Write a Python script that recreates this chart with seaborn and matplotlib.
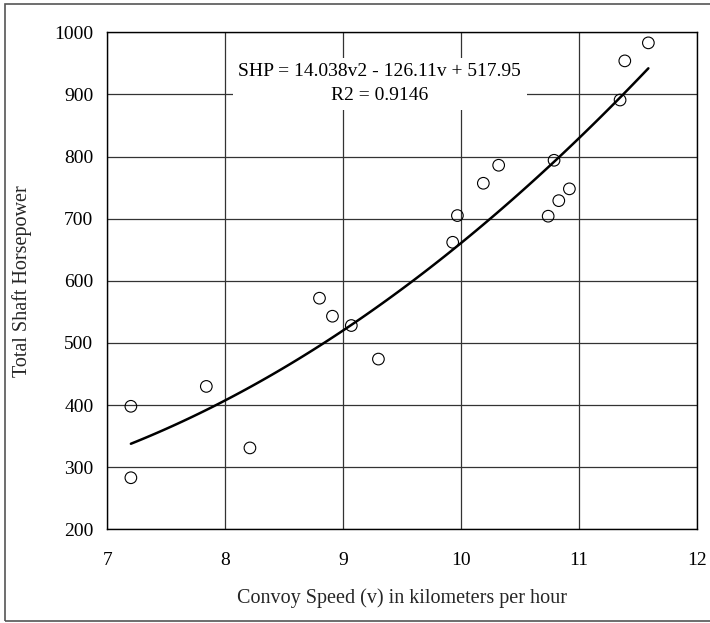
import numpy as np
import pandas as pd
import seaborn as sns
import matplotlib as mpl
from matplotlib import pyplot as plt

# convoy speed (km/h) and total shaft horsepower
speed = [7.20, 7.20, 7.84, 8.21, 8.80, 8.91, 9.07, 9.30, 9.93, 9.97,
         10.19, 10.32, 10.74, 10.79, 10.83, 10.92, 11.35, 11.39, 11.59]
shp = [398, 283, 430, 331, 572, 543, 528, 474, 662, 705,
       757, 786, 704, 794, 729, 748, 891, 954, 983]

# quadratic trend printed on the chart: a*v^2 + b*v + c
coef = [14.038, -126.11, 517.95]
r2 = 0.9146

sns.set_style("white")
plt.rcParams['font.family'] = ['Liberation Serif', 'DejaVu Serif']
plt.rcParams['font.size'] = 13.5
plt.rcParams['text.color'] = 'black'

fig = plt.figure(figsize=(7.1, 6.23), dpi=100)
ax = fig.add_axes([107.3 / 710, 1 - 529.3 / 623, (696.7 - 107.3) / 710, (529.3 - 32.3) / 623])

# outer frame around the whole chart
fig.patches.append(mpl.patches.Rectangle((5 / 710, 1 - 621 / 623), 710 / 710, 617 / 623,
                                         transform=fig.transFigure, fill=False,
                                         edgecolor='#555555', linewidth=1.2))

df = pd.DataFrame({'speed': speed, 'shp': shp})
vv = np.linspace(min(speed), max(speed), 100)
trend = pd.DataFrame({'speed': vv, 'shp': np.polyval(coef, vv)})

sns.lineplot(data=trend, x='speed', y='shp', ax=ax, color='black', linewidth=1.8, zorder=3)
sns.scatterplot(data=df, x='speed', y='shp', ax=ax, s=70, facecolor='none',
                edgecolor='black', linewidth=0.8, zorder=4)

ax.set_xlim(7, 12)
ax.set_ylim(200, 1000)
ax.set_xticks(range(7, 13))
ax.set_yticks(range(200, 1001, 100))
ax.grid(True, color='#333333', linewidth=0.9)
ax.set_axisbelow(True)
for s in ax.spines.values():
    s.set_color('black')
    s.set_linewidth(1.0)
ax.tick_params(direction='out', length=5, width=1, colors='black', labelsize=14)
ax.tick_params(axis='x', pad=11)
ax.tick_params(axis='y', pad=5)

ax.set_xlabel('Convoy Speed (v) in kilometers per hour', fontsize=14.5, labelpad=14)
ax.set_ylabel('Total Shaft Horsepower', fontsize=14.5, labelpad=16)

ax.text(9.31, 917,
        f'SHP = {coef[0]:.3f}v2 - {abs(coef[1]):.2f}v + {coef[2]:.2f}\nR2 = {r2}',
        ha='center', va='center', multialignment='center', linespacing=1.55,
        fontsize=14, bbox=dict(facecolor='white', edgecolor='none', pad=4), zorder=5)

plt.savefig('out.png', dpi=100)
